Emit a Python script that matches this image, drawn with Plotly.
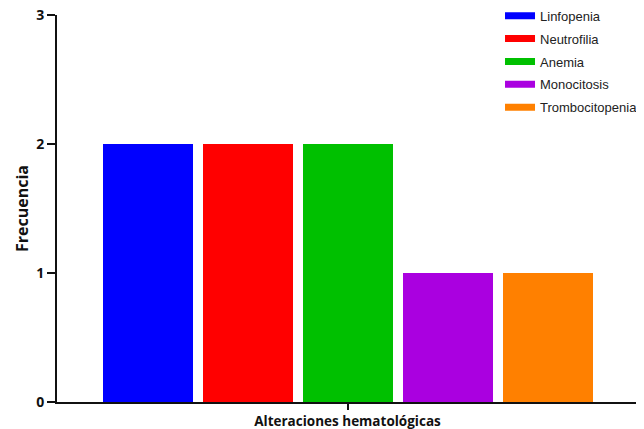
import plotly.graph_objects as go

categories = ["Linfopenia", "Neutrofilia", "Anemia", "Monocitosis", "Trombocitopenia"]
values = [2, 2, 2, 1, 1]
colors = ["#0000ff", "#ff0000", "#00c000", "#aa00e0", "#ff8000"]
y_ticks = [0, 1, 2, 3]

fig = go.Figure()
for i, (c, v, col) in enumerate(zip(categories, values, colors)):
    fig.add_trace(go.Bar(x=[i], y=[v], name=c, marker=dict(color=col, line=dict(width=0)),
                         width=0.9, showlegend=False))
    fig.add_trace(go.Scatter(x=[None], y=[None], mode="lines", name=c, legendgroup=c,
                             line=dict(color=col, width=7)))

fig.update_layout(
    width=644, height=429,
    margin=dict(l=49, r=14, t=7, b=35, autoexpand=False),
    plot_bgcolor="white", paper_bgcolor="white",
    showlegend=True,
    legend=dict(x=0.7625, y=1.037, xanchor="left", yanchor="top",
                font=dict(family="Liberation Sans, Arial", size=13, color="#222"),
                bgcolor="rgba(0,0,0,0)", tracegroupgap=3),
    bargap=0,
)
fig.update_xaxes(range=[-0.91, 4.9], tickvals=[2], ticktext=[""], ticks="outside",
                 ticklen=6, tickwidth=2, tickcolor="#111", showline=True, linecolor="#111",
                 linewidth=2, showgrid=False, zeroline=False, automargin=False,
                 title=dict(text="Alteraciones hematológicas", standoff=5,
                            font=dict(family="Open Sans", size=13.5, color="#111", weight="bold")))
fig.update_yaxes(range=[0, 3], tickvals=y_ticks, ticks="outside", ticklen=8, tickwidth=2,
                 tickcolor="#111", showline=True, linecolor="#111", linewidth=2,
                 showgrid=False, zeroline=False, automargin=False, ticklabeloverflow="allow",
                 tickfont=dict(family="Open Sans", size=14, color="#111", weight="bold"),
                 title=dict(text="Frecuencia", standoff=4,
                            font=dict(family="Open Sans", size=16, color="#111", weight="bold")))

fig.write_html("out.html")
